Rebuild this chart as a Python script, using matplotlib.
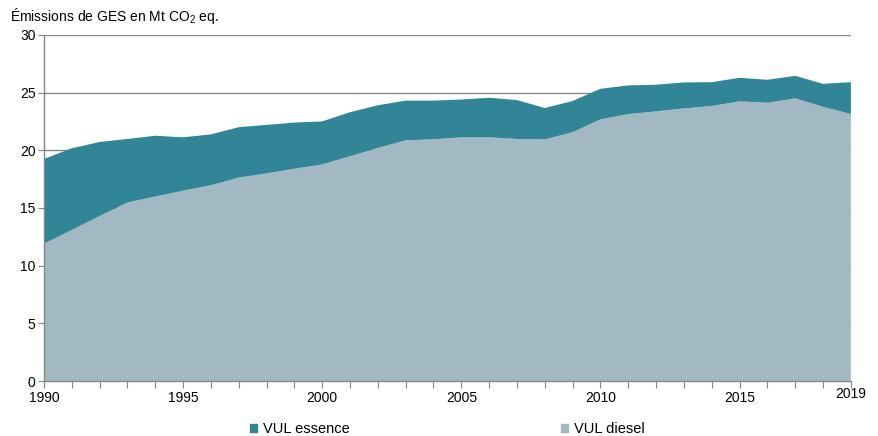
import numpy as np
import matplotlib
matplotlib.use("Agg")
import matplotlib.pyplot as plt
from matplotlib.patches import Patch
from matplotlib.transforms import ScaledTranslation

plt.rcParams["font.family"] = ["Liberation Sans", "DejaVu Sans"]
plt.rcParams["mathtext.fontset"] = "custom"
plt.rcParams["mathtext.rm"] = "Liberation Sans"
plt.rcParams["mathtext.it"] = "Liberation Sans"

# Données (Mt CO2 eq.)
annees = np.arange(1990, 2020)
total = [19.25, 20.17, 20.72, 20.98, 21.26, 21.12, 21.38, 22.0, 22.2, 22.4,
         22.5, 23.3, 23.9, 24.3, 24.3, 24.4, 24.55, 24.35, 23.66, 24.27,
         25.33, 25.62, 25.68, 25.88, 25.9, 26.28, 26.11, 26.45, 25.76, 25.9]
vul_diesel = [11.9, 13.1, 14.3, 15.47, 15.99, 16.5, 16.97, 17.63, 18.0, 18.4,
              18.77, 19.48, 20.2, 20.86, 20.95, 21.12, 21.12, 20.98, 20.95, 21.56,
              22.68, 23.14, 23.37, 23.63, 23.83, 24.24, 24.12, 24.5, 23.77, 23.14]
vul_essence = [t - d for t, d in zip(total, vul_diesel)]

etiquettes_x = [1990, 1995, 2000, 2005, 2010, 2015, 2019]

c_essence = "#318597"
c_diesel = "#a2b9c3"
gris = "#868686"

fig = plt.figure(figsize=(8.79, 4.36), dpi=100)
ax = fig.add_axes([0.050, 0.126, 0.918, 0.794])

ax.stackplot(annees, vul_diesel, vul_essence,
             colors=[c_diesel, c_essence], linewidth=0, zorder=2)

ax.set_xlim(1990, 2019)
ax.set_ylim(0, 30)
ax.set_yticks(np.arange(0, 31, 5))
ax.set_xticks(annees, minor=False)
ax.set_xticklabels([str(a) if a in etiquettes_x else "" for a in annees])
ax.grid(axis="y", color=gris, linewidth=1, zorder=1)
ax.set_axisbelow(True)

for s in ["top", "right"]:
    ax.spines[s].set_visible(False)
for s in ["left", "bottom"]:
    ax.spines[s].set_color(gris)
    ax.spines[s].set_linewidth(1)
    ax.spines[s].set_zorder(3)

ax.tick_params(axis="x", direction="out", length=5, color=gris, labelsize=10, pad=2)
ax.tick_params(axis="y", direction="out", length=4, color=gris, labelsize=10, pad=2)

# l'étiquette 2019 est un peu plus haute dans l'original
lab = ax.get_xticklabels()[-1]
lab.set_transform(lab.get_transform() + ScaledTranslation(0, 4 / 100, fig.dpi_scale_trans))

fig.text(0.011, 0.986, "Émissions de GES en Mt CO$_2$ eq.", fontsize=10,
         va="top", ha="left")

handles = [Patch(color=c_essence, label="VUL essence"),
           Patch(color=c_diesel, label="VUL diesel")]
fig.legend(handles=handles, loc="lower center", bbox_to_anchor=(0.509, -0.03),
           ncol=2, frameon=False, fontsize=10.5, handlelength=0.5, handleheight=0.5,
           handletextpad=0.4, columnspacing=14.5)

fig.savefig("out.png", dpi=100)
